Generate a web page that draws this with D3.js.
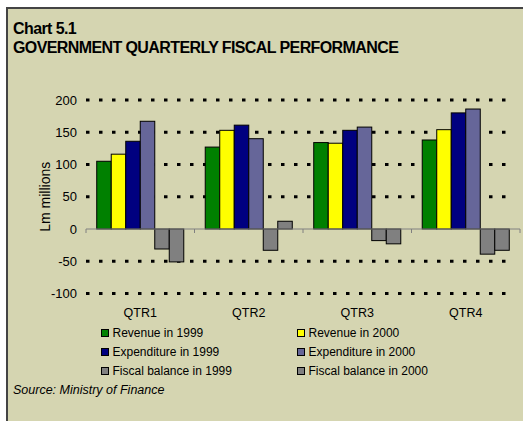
<!DOCTYPE html>
<html>
<head>
<meta charset="utf-8">
<script src="https://cdn.jsdelivr.net/npm/d3@7"></script>
<style>
  body { margin: 0; background: #fff; }
  text { font-family: "Liberation Sans", Arial, sans-serif; fill: #000; }
</style>
</head>
<body>
<div id="chart"></div>
<script>
const quarters = ["QTR1", "QTR2", "QTR3", "QTR4"];
const seriesNames = ["Revenue in 1999", "Revenue in 2000", "Expenditure in 1999",
                     "Expenditure in 2000", "Fiscal balance in 1999", "Fiscal balance in 2000"];
const revenue1999 = [105, 127, 134, 138];
const revenue2000 = [116, 153, 133, 154];
const expenditure1999 = [136, 161, 153, 180];
const expenditure2000 = [167, 140, 158, 186];
const balance1999 = [-31, -33, -18, -39];
const balance2000 = [-51, 12, -23, -33];
const yTicks = [200, 150, 100, 50, 0, -50, -100];
const seriesColors = ["#008000", "#ffff00", "#000080", "#666699", "#808080", "#808080"];

const allSeries = [revenue1999, revenue2000, expenditure1999, expenditure2000, balance1999, balance2000];

const width = 523;
const height = 421;

const svg = d3.select("#chart")
              .append("svg")
              .attr("width", width)
              .attr("height", height)

// panel background + frame
svg.append("rect")
   .attr("x", 7).attr("y", 8)
   .attr("width", width + 10).attr("height", height + 10)
   .attr("fill", "#d5d5b1")
   .attr("stroke", "#444")
   .attr("stroke-width", 2)

svg.append("text")
   .attr("x", 13).attr("y", 34)
   .attr("font-size", "16px").attr("font-weight", "bold")
   .attr("letter-spacing", "-0.6px")
   .text("Chart 5.1")

svg.append("text")
   .attr("x", 13).attr("y", 53)
   .attr("font-size", "16px").attr("font-weight", "bold")
   .attr("letter-spacing", "-0.6px")
   .text("GOVERNMENT QUARTERLY FISCAL PERFORMANCE")

const x = d3.scaleBand()
            .domain(quarters)
            .range([86, 520])

const xInner = d3.scaleBand()
                 .domain(d3.range(seriesNames.length))
                 .range([0, x.bandwidth()])
                 .paddingOuter(0.74)

const y = d3.scaleLinear()
            .domain([-100, 200])
            .range([293.5, 100])

// dotted gridlines
svg.append("g")
   .selectAll("line")
   .data(yTicks.filter(d => d !== 0))
   .enter()
   .append("line")
   .attr("x1", 86).attr("x2", 514)
   .attr("y1", d => y(d)).attr("y2", d => y(d))
   .attr("stroke", "#000")
   .attr("stroke-width", 3)
   .attr("stroke-dasharray", "3.5,9.5")

// y tick labels
svg.append("g")
   .selectAll("text")
   .data(yTicks)
   .enter()
   .append("text")
   .attr("x", 77)
   .attr("y", d => y(d))
   .attr("dy", "0.36em")
   .attr("text-anchor", "end")
   .attr("font-size", "13px")
   .text(d => d)

svg.append("text")
   .attr("transform", `translate(50,${(y(200) + y(-100)) / 2}) rotate(-90)`)
   .attr("text-anchor", "middle")
   .attr("font-size", "14px")
   .text("Lm millions")

// bars
const groups = svg.selectAll("g.qtr")
                  .data(quarters)
                  .enter()
                  .append("g")
                  .attr("class", "qtr")
                  .attr("transform", d => `translate(${x(d)},0)`)

groups.selectAll("rect")
      .data((q, qi) => allSeries.map((s, si) => ({ si, v: s[qi] })))
      .enter()
      .append("rect")
      .attr("x", d => xInner(d.si))
      .attr("width", xInner.bandwidth())
      .attr("y", d => y(Math.max(0, d.v)))
      .attr("height", d => Math.abs(y(d.v) - y(0)))
      .attr("fill", d => seriesColors[d.si])
      .attr("stroke", "#000")
      .attr("stroke-width", 1)

// category axis
svg.append("line")
   .attr("x1", 86).attr("x2", 520)
   .attr("y1", y(0)).attr("y2", y(0))
   .attr("stroke", "#808080")
svg.append("g")
   .selectAll("line")
   .data(d3.range(quarters.length + 1))
   .enter()
   .append("line")
   .attr("x1", i => 86 + i * x.step()).attr("x2", i => 86 + i * x.step())
   .attr("y1", y(0)).attr("y2", y(0) + 4)
   .attr("stroke", "#808080")

svg.append("g")
   .selectAll("text")
   .data(quarters)
   .enter()
   .append("text")
   .attr("x", d => x(d) + x.bandwidth() / 2)
   .attr("y", 317)
   .attr("text-anchor", "middle")
   .attr("font-size", "12.5px")
   .text(d => d)

// legend
const legend = svg.selectAll("g.legend")
                  .data(seriesNames)
                  .enter()
                  .append("g")
                  .attr("class", "legend")
                  .attr("transform", (d, i) => `translate(${i % 2 === 0 ? 101.5 : 297.5},${333 + Math.floor(i / 2) * 19})`)

legend.append("rect")
      .attr("x", 0).attr("y", -3.5)
      .attr("width", 7).attr("height", 7)
      .attr("fill", (d, i) => seriesColors[i])
      .attr("stroke", "#000")

legend.append("text")
      .attr("x", 11)
      .attr("dy", "0.36em")
      .attr("font-size", "12px")
      .text(d => d)

svg.append("text")
   .attr("x", 13).attr("y", 394)
   .attr("font-size", "12.5px")
   .attr("font-style", "italic")
   .text("Source: Ministry of Finance")
</script>
</body>
</html>
